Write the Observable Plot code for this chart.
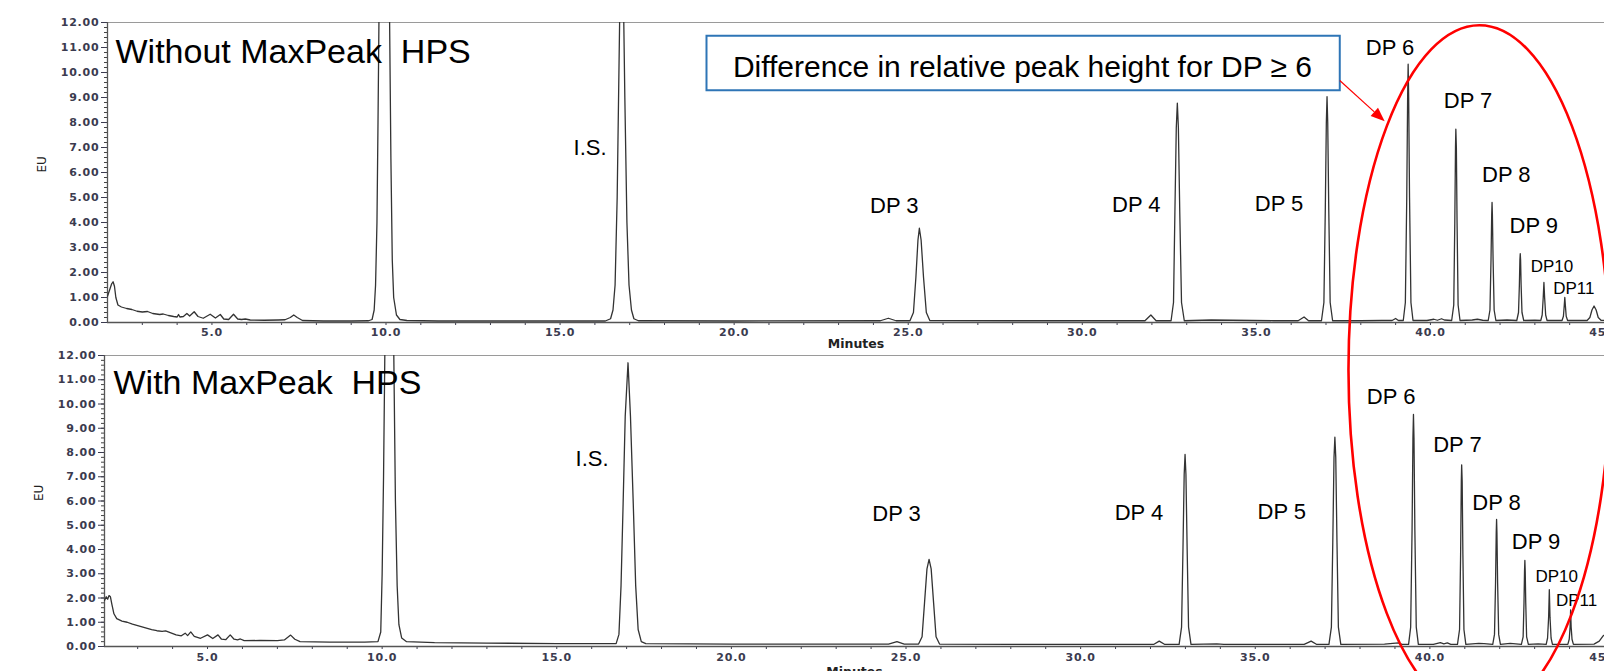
<!DOCTYPE html>
<html>
<head>
<meta charset="utf-8">
<script src="https://cdn.jsdelivr.net/npm/d3@7"></script>
<script src="https://cdn.jsdelivr.net/npm/@observablehq/plot@0.6"></script>
<style>
html, body { margin: 0; padding: 0; overflow: hidden; background: #fff; }
#wrap { position: relative; width: 1604px; height: 671px; overflow: hidden; }
#wrap > svg { position: absolute; left: 0; }
.chrom [aria-label$="tick label"] { font-family: "DejaVu Sans", sans-serif; font-weight: bold; font-size: 11px; letter-spacing: 0.8px; }
</style>
</head>
<body>
<div id="wrap"></div>
<script>
// ---- Data (time in minutes, signal in EU) ----
const withoutTime = [2.00,2.06,2.12,2.16,2.20,2.24,2.30,2.40,2.55,2.70,2.85,3.00,3.15,3.30,3.50,3.60,3.75,3.90,4.00,4.04,4.08,4.18,4.28,4.36,4.49,4.60,4.75,4.95,5.10,5.24,5.34,5.48,5.62,5.74,5.85,5.96,6.10,6.50,6.90,7.10,7.25,7.35,7.45,7.60,8.20,9.00,9.50,9.60,9.66,9.70,9.74,9.77,9.80,9.95,10.10,10.14,10.18,10.22,10.30,10.40,10.60,11.50,13.00,15.00,16.30,16.45,16.52,16.58,16.64,16.69,16.72,16.77,16.82,16.86,16.92,16.98,17.05,17.12,17.25,20.00,24.20,24.43,24.65,25.05,25.15,25.22,25.28,25.32,25.37,25.44,25.52,25.62,28.00,31.80,31.97,32.12,32.55,32.62,32.66,32.70,32.73,32.76,32.80,32.85,32.93,33.70,35.50,36.20,36.37,36.50,36.87,36.94,36.98,37.01,37.03,37.05,37.08,37.12,37.19,38.00,38.60,38.90,39.00,39.08,39.22,39.28,39.32,39.345,39.36,39.375,39.40,39.44,39.50,39.90,40.10,40.20,40.32,40.40,40.61,40.67,40.70,40.72,40.73,40.745,40.765,40.795,40.85,41.20,41.35,41.50,41.66,41.71,41.74,41.76,41.77,41.78,41.80,41.83,41.88,42.20,42.48,42.53,42.555,42.57,42.58,42.59,42.605,42.63,42.68,43.00,43.17,43.21,43.24,43.26,43.28,43.31,43.35,43.78,43.82,43.845,43.86,43.875,43.90,43.94,44.50,44.58,44.64,44.70,44.76,44.82,44.90,45.00];
const withoutEU = [1.05,1.30,1.55,1.63,1.45,1.00,0.70,0.62,0.56,0.52,0.45,0.42,0.44,0.36,0.32,0.34,0.28,0.24,0.22,0.32,0.22,0.24,0.36,0.26,0.43,0.24,0.17,0.33,0.18,0.32,0.14,0.12,0.33,0.14,0.12,0.14,0.10,0.09,0.10,0.11,0.20,0.30,0.20,0.08,0.06,0.06,0.07,0.12,0.50,1.50,4.00,8.00,12.5,30,12.5,6.6,2.5,1.0,0.30,0.12,0.08,0.06,0.06,0.06,0.06,0.15,0.5,1.5,5,10,13,16,13,9,4,1.5,0.5,0.15,0.07,0.06,0.07,0.17,0.07,0.07,0.4,1.8,3.3,3.77,3.3,1.8,0.4,0.08,0.07,0.07,0.30,0.07,0.07,0.8,4.4,7.8,8.77,7.8,4.4,0.8,0.07,0.10,0.07,0.07,0.22,0.07,0.07,0.8,4.5,8,9.03,8,4.5,0.8,0.07,0.07,0.08,0.08,0.16,0.08,0.08,0.8,5,9,10.33,9,5,0.8,0.08,0.08,0.13,0.09,0.15,0.10,0.08,0.7,4,7,7.73,7,4,0.7,0.08,0.10,0.13,0.09,0.08,0.5,2.5,4.3,4.8,4.3,2.5,0.5,0.08,0.10,0.08,0.4,1.5,2.5,2.75,2.5,1.5,0.4,0.08,0.09,0.08,0.3,1.0,1.6,1.0,0.3,0.08,0.08,0.25,0.7,1.0,0.7,0.25,0.08,0.08,0.2,0.5,0.66,0.5,0.2,0.09,0.08];

const withTime = [2.05,2.10,2.14,2.18,2.22,2.26,2.32,2.40,2.55,2.70,2.85,3.00,3.20,3.40,3.55,3.70,3.80,3.95,4.10,4.25,4.36,4.43,4.52,4.62,4.80,5.00,5.15,5.30,5.40,5.52,5.65,5.76,5.86,5.94,6.05,6.50,7.00,7.20,7.38,7.50,7.65,8.50,9.50,9.88,9.96,10.00,10.04,10.08,10.20,10.33,10.38,10.43,10.48,10.56,10.70,11.50,13.00,15.00,16.70,16.78,16.84,16.90,16.96,17.04,17.11,17.19,17.26,17.33,17.42,17.55,20.00,24.50,24.74,24.95,25.36,25.46,25.53,25.60,25.66,25.72,25.79,25.86,25.96,28.00,31.00,32.10,32.25,32.40,32.82,32.89,32.93,32.965,32.99,33.015,33.05,33.09,33.16,33.90,34.10,36.40,36.60,36.75,37.11,37.18,37.22,37.255,37.28,37.305,37.34,37.38,37.45,38.70,39.10,39.20,39.39,39.45,39.49,39.515,39.53,39.545,39.57,39.61,39.67,40.10,40.30,40.40,40.50,40.60,40.79,40.85,40.88,40.90,40.91,40.925,40.945,40.975,41.03,41.40,41.55,41.80,41.85,41.88,41.90,41.91,41.92,41.94,41.97,42.02,42.30,42.62,42.67,42.695,42.71,42.72,42.73,42.745,42.77,42.82,43.10,43.33,43.37,43.40,43.42,43.44,43.47,43.51,43.95,43.99,44.015,44.03,44.045,44.07,44.11,44.70,44.85,44.95,45.00];
const withEU = [1.90,2.05,1.95,2.10,2.05,1.75,1.35,1.15,1.05,1.00,0.92,0.86,0.78,0.70,0.65,0.62,0.64,0.56,0.48,0.44,0.55,0.45,0.60,0.42,0.34,0.48,0.33,0.48,0.30,0.28,0.48,0.30,0.27,0.31,0.24,0.25,0.24,0.27,0.47,0.30,0.20,0.18,0.18,0.20,0.6,3,7,12.5,30,12.5,6,2.5,0.9,0.35,0.20,0.16,0.14,0.12,0.12,0.5,2.5,5.9,9.5,11.7,9.5,5.9,2.5,0.7,0.2,0.12,0.10,0.10,0.20,0.10,0.10,0.4,1.8,3.2,3.59,3.2,1.8,0.4,0.10,0.09,0.09,0.09,0.22,0.09,0.09,0.8,4,7.1,7.92,7.1,4,0.8,0.09,0.11,0.09,0.09,0.22,0.09,0.09,0.8,4.3,7.8,8.63,7.8,4.3,0.8,0.09,0.10,0.15,0.09,0.09,0.8,4.8,8.6,9.57,8.6,4.8,0.8,0.09,0.09,0.16,0.11,0.15,0.09,0.09,0.7,3.8,6.8,7.49,6.8,3.8,0.7,0.09,0.13,0.12,0.09,0.5,2.6,4.7,5.24,4.7,2.6,0.5,0.09,0.13,0.09,0.4,1.8,3.1,3.55,3.1,1.8,0.4,0.09,0.11,0.09,0.35,1.2,2.34,1.2,0.35,0.09,0.09,0.3,0.8,1.51,0.8,0.3,0.09,0.10,0.22,0.42,0.48];

// Peak labels (text and anchor in data units)
const peakLabels = ["I.S.","DP 3","DP 4","DP 5","DP 6","DP 7","DP 8","DP 9","DP10","DP11"];
const withoutLabelTime = [15.86,24.60,31.55,35.65,38.84,41.08,42.18,42.97,43.49,44.12];
const withoutLabelEU   = [6.69,4.40,4.44,4.48,10.70,8.60,5.61,3.59,2.04,1.13];
const withLabelTime    = [16.01,24.73,31.67,35.76,38.89,40.79,41.91,43.04,43.63,44.20];
const withLabelEU      = [7.46,5.17,5.20,5.27,9.98,8.01,5.61,4.03,2.65,1.69];

const yTicks = d3.range(0, 12.001, 1);
const yMinor = d3.range(0, 12.001, 0.2);
const xTicks = d3.range(3, 46, 1);
const panelTitles = ["Without MaxPeak\u00a0 HPS", "With MaxPeak\u00a0 HPS"];
const calloutText = "Difference in relative peak height for DP \u2265 6";

const SANS = "Liberation Sans, Arial, Helvetica, sans-serif";
const isSmall = d => d === "DP10" || d === "DP11";

function chromatogram({time, eu, xDomain, marginLeft, marginTop, marginBottom, height, lt, le, title, titleDx, titleDy, minutesDy, tickPad, extra = []}) {
  return Plot.plot({
    className: "chrom",
    width: 1604,
    height,
    marginLeft,
    marginRight: 0,
    marginTop,
    marginBottom,
    style: {background: "transparent", overflow: "visible"},
    x: {domain: xDomain, label: null},
    y: {domain: [0, 12], label: null},
    marks: [
      Plot.ruleY([12], {stroke: "#9a9a9a", strokeWidth: 1.2}),
      Plot.axisY({ticks: yMinor, tickSize: 3, tickFormat: () => "", color: "#444", label: null}),
      Plot.axisY({ticks: yTicks, tickSize: 6, tickPadding: 2, tickFormat: d => d.toFixed(2), color: "#3b3b4f", label: null}),
      Plot.axisX({ticks: xTicks, tickSize: 3, tickPadding: tickPad, tickFormat: d => d % 5 === 0 ? d.toFixed(1) : "", color: "#3b3b4f", label: null}),
      Plot.ruleX([xDomain[0]], {stroke: "#555", strokeWidth: 1.3}),
      Plot.ruleY([0], {stroke: "#555", strokeWidth: 1.3}),
      Plot.line(eu, {x: time, y: eu, stroke: "#333", strokeWidth: 1.3, clip: true}),
      ...extra,
      Plot.text(peakLabels, {x: lt, y: le, text: d => d, filter: d => !isSmall(d), lineAnchor: "bottom", fontSize: 22, fontFamily: SANS, fill: "#000"}),
      Plot.text(peakLabels, {x: lt, y: le, text: d => d, filter: isSmall, lineAnchor: "bottom", fontSize: 17, fontFamily: SANS, fill: "#000"}),
      Plot.text([title], {frameAnchor: "top-left", textAnchor: "start", lineAnchor: "bottom", dx: titleDx, dy: titleDy, fontSize: 34, fontFamily: SANS, fill: "#000"}),
      Plot.text(["EU"], {frameAnchor: "left", dx: -65, rotate: -90, fontSize: 12, fontFamily: "DejaVu Sans, sans-serif", fill: "#222"}),
      Plot.text(["Minutes"], {frameAnchor: "bottom", lineAnchor: "bottom", dy: minutesDy, fontSize: 12.5, fontWeight: "bold", fontFamily: "DejaVu Sans, sans-serif", fill: "#222", style: "letter-spacing:1.2px"})
    ]
  });
}

// Callout box (data units of the upper panel)
const calloutBox = {x1: 19.22, x2: 37.41, y1: 9.27, y2: 11.45};
const calloutAnchor = {x: 28.28, y: 9.83};

const topPlot = chromatogram({
  time: withoutTime, eu: withoutEU, xDomain: [2, 45],
  marginLeft: 107, marginTop: 22, marginBottom: 30, height: 352,
  lt: withoutLabelTime, le: withoutLabelEU,
  title: panelTitles[0], titleDx: 8, titleDy: 40.7, minutesDy: 25, tickPad: 3,
  extra: [
    Plot.rect([calloutBox], {x1: "x1", x2: "x2", y1: "y1", y2: "y2", fill: "white", stroke: "#2E75B6", strokeWidth: 2}),
    Plot.text([calloutText], {x: calloutAnchor.x, y: calloutAnchor.y, lineAnchor: "bottom", fontSize: 30, fontFamily: SANS, fill: "#000"})
  ]
});

const bottomPlot = chromatogram({
  time: withTime, eu: withEU, xDomain: [2.05, 45],
  marginLeft: 104, marginTop: 15, marginBottom: 34, height: 340,
  lt: withLabelTime, le: withLabelEU,
  title: panelTitles[1], titleDx: 9, titleDy: 38.3, minutesDy: 29, tickPad: 4
});

const wrap = document.getElementById("wrap");
topPlot.style.top = "0px";
bottomPlot.style.top = "340px";
wrap.appendChild(topPlot);
wrap.appendChild(bottomPlot);

// Red ellipse and arrow overlay, positioned through the upper panel's scales
const xs = topPlot.scale("x"), ys = topPlot.scale("y");
const ellipseSpec = {cx: 41.42, cy: -1.91, rx: 3.76, ry: 13.78};
const arrowSpec = {x1: 37.41, y1: 9.66, x2: 38.70, y2: 8.03};

const overlay = d3.create("svg")
  .attr("width", 1604).attr("height", 671)
  .style("top", "0px").style("pointer-events", "none");
const ecx = xs.apply(ellipseSpec.cx), ecy = ys.apply(ellipseSpec.cy);
overlay.append("ellipse")
  .attr("cx", ecx).attr("cy", ecy)
  .attr("rx", xs.apply(ellipseSpec.cx + ellipseSpec.rx) - ecx)
  .attr("ry", ecy - ys.apply(ellipseSpec.cy + ellipseSpec.ry))
  .attr("fill", "none").attr("stroke", "#ff0000").attr("stroke-width", 2.6);

const ax1 = xs.apply(arrowSpec.x1), ay1 = ys.apply(arrowSpec.y1), ax2 = xs.apply(arrowSpec.x2), ay2 = ys.apply(arrowSpec.y2);
const ang = Math.atan2(ay2 - ay1, ax2 - ax1), hl = 14, hw = 5.5;
const bx = ax2 - hl * Math.cos(ang), by = ay2 - hl * Math.sin(ang);
overlay.append("line").attr("x1", ax1).attr("y1", ay1).attr("x2", bx).attr("y2", by)
  .attr("stroke", "#ff0000").attr("stroke-width", 1.2);
overlay.append("path")
  .attr("d", `M${ax2},${ay2}L${bx + hw * Math.sin(ang)},${by - hw * Math.cos(ang)}L${bx - hw * Math.sin(ang)},${by + hw * Math.cos(ang)}Z`)
  .attr("fill", "#ff0000");
wrap.appendChild(overlay.node());
</script>
</body>
</html>
